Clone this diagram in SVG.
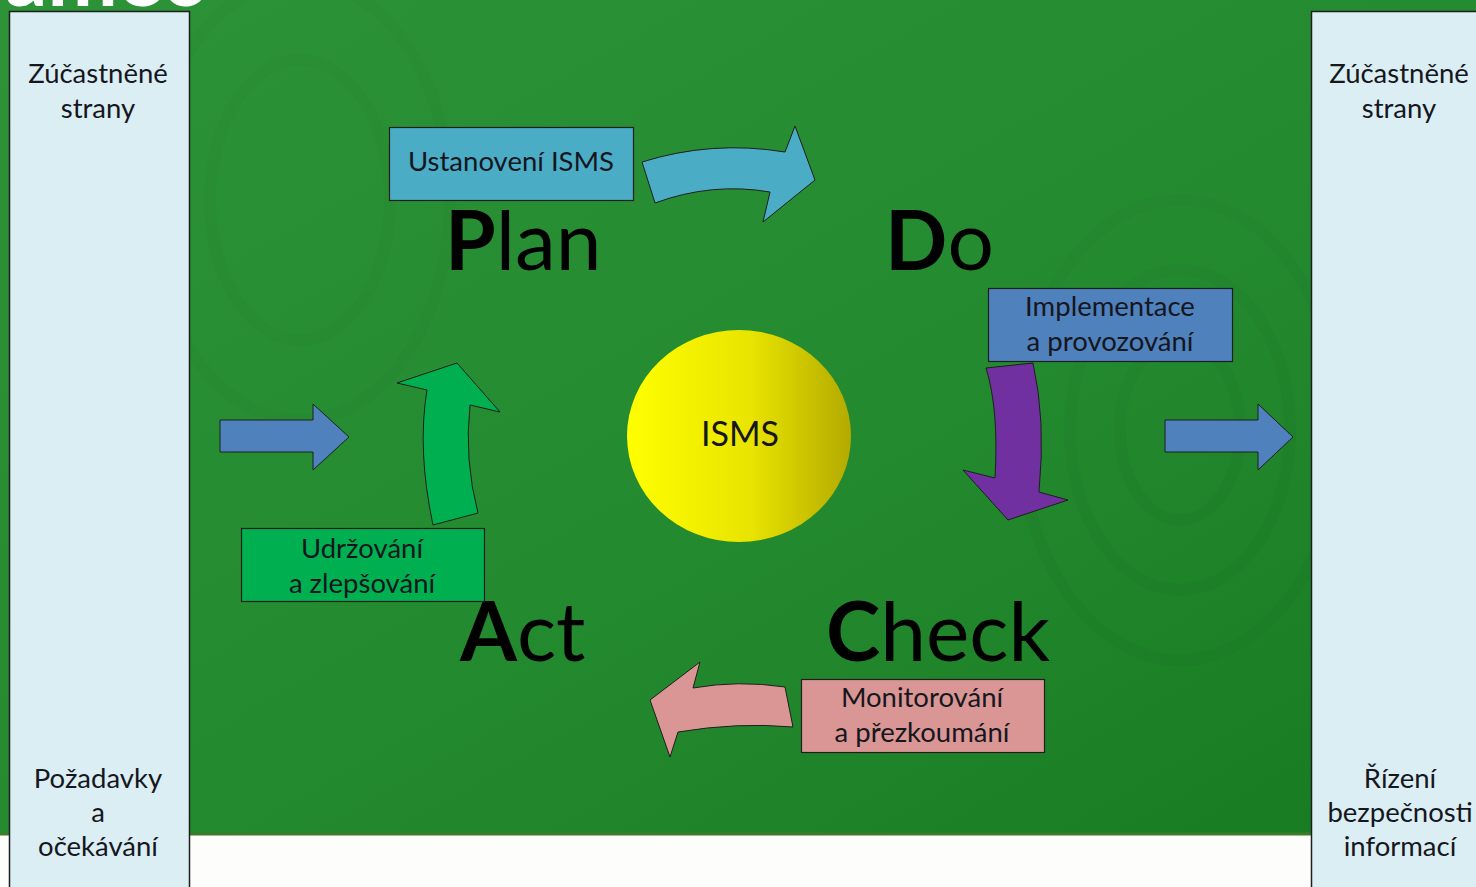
<svg xmlns="http://www.w3.org/2000/svg" width="1476" height="887" viewBox="0 0 1476 887">
  <defs>
    <linearGradient id="bg" x1="0" y1="0" x2="1" y2="1">
      <stop offset="0" stop-color="#2c9338"/>
      <stop offset="0.55" stop-color="#248a30"/>
      <stop offset="1" stop-color="#177a20"/>
    </linearGradient>
    <linearGradient id="sun" x1="0" y1="0" x2="1" y2="0">
      <stop offset="0" stop-color="#ffff00"/>
      <stop offset="0.55" stop-color="#e9e400"/>
      <stop offset="1" stop-color="#b3aa00"/>
    </linearGradient>
    <style>
      .panel { fill: #daeef3; stroke: #1e1e1e; stroke-width: 1.5; }
      .box { stroke: #1e1e1e; stroke-width: 1.2; }
      .arrow { stroke: #1e1e1e; stroke-width: 1; stroke-linejoin: miter; }
      .t { font-family: Lato, "Open Sans", "DejaVu Sans", sans-serif; font-size: 27.5px; fill: #16161e; text-anchor: middle; }
      .big { font-family: Lato, "Open Sans", "DejaVu Sans", sans-serif; font-size: 82px; fill: #000; }
      .big .b { font-weight: 700; }
      .title { font-family: Lato, "DejaVu Sans", sans-serif; font-size: 84px; font-weight: 700; fill: #fff; }
      .swirl { fill: none; stroke: #000; stroke-opacity: 0.018; stroke-width: 12; }
    </style>
  </defs>

  <!-- backdrop -->
  <rect x="0" y="0" width="1476" height="887" fill="#fdfefb"/>
  <rect x="0" y="0" width="1476" height="835" fill="url(#bg)"/>
  <g class="swirl">
    <ellipse cx="1180" cy="430" rx="60" ry="90"/>
    <ellipse cx="1180" cy="430" rx="110" ry="160"/>
    <ellipse cx="1180" cy="430" rx="160" ry="230"/>
    <ellipse cx="300" cy="200" rx="90" ry="140"/>
    <ellipse cx="300" cy="200" rx="150" ry="220"/>
  </g>
  <line x1="0" y1="834" x2="1476" y2="834" stroke="#3f7b2b" stroke-width="3"/>
  <text class="title" x="-26" y="6">rámec</text>

  <!-- side panels -->
  <g id="panel-left">
    <rect class="panel" x="9.5" y="11.5" width="180" height="890"/>
    <text class="t" x="98" y="83">Zúčastněné</text>
    <text class="t" x="98" y="118">strany</text>
    <text class="t" x="98" y="788">Požadavky</text>
    <text class="t" x="98" y="822">a</text>
    <text class="t" x="98" y="856">očekávání</text>
  </g>
  <g id="panel-right">
    <rect class="panel" x="1311.5" y="11.5" width="180" height="890"/>
    <text class="t" x="1399" y="83">Zúčastněné</text>
    <text class="t" x="1399" y="118">strany</text>
    <text class="t" x="1400" y="788">Řízení</text>
    <text class="t" x="1400" y="822">bezpečnosti</text>
    <text class="t" x="1400" y="856">informací</text>
  </g>

  <!-- centre -->
  <g id="isms">
    <ellipse cx="739" cy="436" rx="112" ry="106" fill="url(#sun)"/>
    <text class="t" x="740" y="446" style="font-size:34px">ISMS</text>
  </g>

  <!-- phase labels -->
  <g id="plan">
    <rect class="box" x="389.5" y="127.5" width="244" height="73" fill="#4bacc6"/>
    <text class="t" x="511" y="171">Ustanovení ISMS</text>
    <text class="big" x="445" y="270"><tspan class="b">P</tspan>lan</text>
  </g>
  <g id="do">
    <text class="big" x="885" y="270"><tspan class="b">D</tspan>o</text>
    <rect class="box" x="988.5" y="288.5" width="244" height="73" fill="#4f81bd"/>
    <text class="t" x="1110" y="316">Implementace</text>
    <text class="t" x="1110" y="351">a provozování</text>
  </g>
  <g id="check">
    <text class="big" x="826" y="661"><tspan class="b">C</tspan>heck</text>
    <rect class="box" x="801.5" y="679.5" width="243" height="73" fill="#d99694"/>
    <text class="t" x="922" y="707">Monitorování</text>
    <text class="t" x="922" y="742">a přezkoumání</text>
  </g>
  <g id="act">
    <text class="big" x="460" y="661"><tspan class="b">A</tspan>ct</text>
    <rect class="box" x="241.5" y="528.5" width="243" height="73" fill="#00b050"/>
    <text class="t" x="362" y="558">Udržování</text>
    <text class="t" x="362" y="593">a zlepšování</text>
  </g>

  <!-- connectors -->
  <g id="connectors">
    <path class="arrow" fill="#4f81bd" d="M220,420 L313,420 L313,404 L349,437 L313,470 L313,452 L220,452 Z"/>
    <path class="arrow" fill="#4f81bd" d="M1165,420 L1258,420 L1258,404 L1293,437 L1258,470 L1258,452 L1165,452 Z"/>
    <path class="arrow" fill="#4bacc6" d="M642,162 Q712,140 785,152 L795,126 L815,180 L763,222 L770,192 Q712,182 655,203 Z"/>
    <path class="arrow" fill="#7030a0" d="M986,368 L1033,363 Q1046,420 1039,492 L1068,500 L1008,520 L963,470 L995,478 Q999,410 986,368 Z"/>
    <path class="arrow" fill="#d99694" d="M785,687 Q738,680 693,688 L700,662 L650,700 L670,757 L678,732 Q738,722 793,727 Z"/>
    <path class="arrow" fill="#00b050" d="M433,525 Q417,450 427,390 L397,383 L457,363 L500,412 L470,405 Q464,460 478,513 Z"/>
  </g>
</svg>
